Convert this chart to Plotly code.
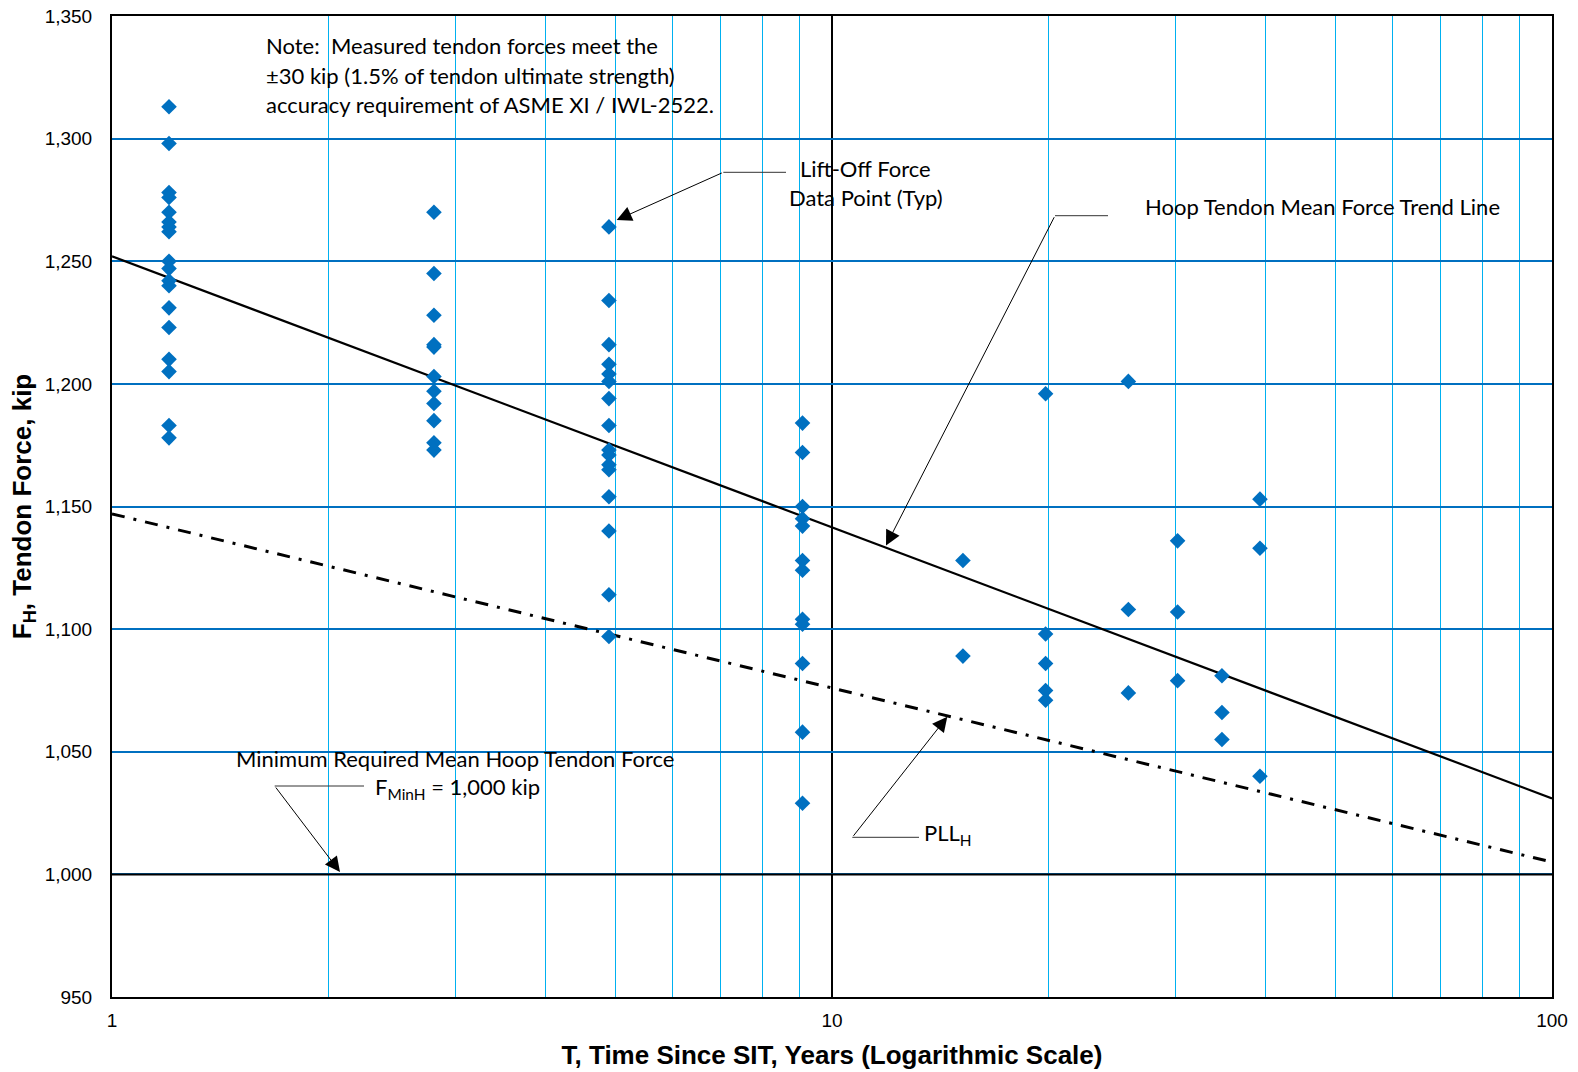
import plotly.graph_objects as go

# ---------------- data ----------------
years = [1.2, 2.8, 4.9, 9.1, 15.2, 19.8, 25.8, 30.2, 34.8, 39.3]
forces_by_year = [
    [1313, 1298, 1278, 1276, 1270, 1266, 1264, 1262, 1250, 1247, 1242, 1240, 1231, 1223, 1210, 1205, 1183, 1178],
    [1270, 1245, 1228, 1216, 1215, 1203, 1197, 1192, 1185, 1176, 1173],
    [1264, 1234, 1216, 1208, 1204, 1201, 1194, 1183, 1173, 1171, 1167, 1165, 1154, 1140, 1114, 1097],
    [1184, 1172, 1150, 1145, 1142, 1128, 1124, 1104, 1102, 1086, 1058, 1029],
    [1128, 1089],
    [1196, 1098, 1086, 1075, 1071],
    [1201, 1108, 1074],
    [1136, 1107, 1079],
    [1081, 1066, 1055],
    [1153, 1133, 1040],
]
trend_T = [1, 100]
trend_F = [1252, 1031]
pll_T = [1, 100]
pll_F = [1147, 1005]
min_T = [1, 100]
min_F = [1000, 1000]

x_tick_vals = [1, 10, 100]
x_minor_vals = [2, 3, 4, 5, 6, 7, 8, 9, 20, 30, 40, 50, 60, 70, 80, 90]
y_tick_vals = [950, 1000, 1050, 1100, 1150, 1200, 1250, 1300, 1350]

pts_T = [t for t, fs in zip(years, forces_by_year) for _ in fs]
pts_F = [f for fs in forces_by_year for f in fs]

# ---------------- figure ----------------
W, H = 1578, 1072
L, R, T, B = 112, 26, 16, 75
PW, PH = W - L - R, H - T - B

def px(x):
    return (x - L) / PW

def py(y):
    return (H - B - y) / PH

fig = go.Figure()
fig.add_trace(go.Scatter(x=min_T, y=min_F, mode="lines",
                         line=dict(color="black", width=2), hoverinfo="skip"))
fig.add_trace(go.Scatter(x=pll_T, y=pll_F, mode="lines",
                         line=dict(color="black", width=3, dash="13px,9px,3px,9px"), hoverinfo="skip"))
fig.add_trace(go.Scatter(x=trend_T, y=trend_F, mode="lines",
                         line=dict(color="black", width=2.2), hoverinfo="skip"))
fig.add_trace(go.Scatter(x=pts_T, y=pts_F, mode="markers",
                         marker=dict(symbol="diamond", size=12, color="#0070C0")))

ann_font = dict(family="Lato, Open Sans, sans-serif", size=22, color="black")

def text(x, y, s, anchor="left"):
    fig.add_annotation(x=px(x), y=py(y), xref="paper", yref="paper", text=s,
                       showarrow=False, xanchor=anchor, yanchor="middle", font=ann_font)

def leader(tip, knee, end):
    fig.add_shape(type="line", xref="paper", yref="paper",
                  x0=px(knee[0]), y0=py(knee[1]), x1=px(end[0]), y1=py(end[1]),
                  line=dict(color="#333333", width=1))
    fig.add_annotation(x=px(tip[0]), y=py(tip[1]), xref="paper", yref="paper",
                       ax=knee[0] - tip[0], ay=knee[1] - tip[1], axref="pixel", ayref="pixel",
                       text="", showarrow=True, arrowhead=2, arrowsize=3,
                       arrowwidth=1, arrowcolor="black")

text(263.5, 45.5, "Note:  Measured tendon forces meet the")
text(263.5, 75, "±30 kip (1.5% of tendon ultimate strength)")
text(263.5, 104.5, "accuracy requirement of ASME XI / IWL-2522.")
text(865.5, 168, "Lift-Off Force", "center")
text(865.5, 197, "Data Point (Typ)", "center")
text(1143, 206.5, "Hoop Tendon Mean Force Trend Line")
text(455, 758, "Minimum Required Mean Hoop Tendon Force", "center")
text(457, 788, "F<sub>MinH</sub> = 1,000 kip", "center")
text(922, 834, "PLL<sub>H</sub>")

leader((616.7, 220), (723.3, 172.3), (786, 172.3))
leader((886, 545.6), (1055, 215.7), (1108, 215.7))
leader((340, 872), (274.7, 786), (364, 786))
leader((947.3, 716.7), (852.3, 837.3), (919, 837.3))

tick_font = dict(family="Liberation Sans, Arial, sans-serif", size=19, color="black")
title_font = dict(family="Liberation Sans, Arial, sans-serif", size=26, color="black")

fig.update_xaxes(type="log", range=[0, 2], tickvals=x_tick_vals, ticktext=[str(v) for v in x_tick_vals],
                 showgrid=True, gridcolor="black", gridwidth=2,
                 minor=dict(tickvals=x_minor_vals, showgrid=True, gridcolor="#00B0F0", gridwidth=1.3, ticks=""),
                 showline=True, linecolor="black", linewidth=2, mirror=True,
                 ticks="", ticklabelstandoff=5, ticklabeloverflow="allow", tickfont=tick_font, zeroline=False,
                 title=dict(text="<b>T, Time Since SIT, Years (Logarithmic Scale)</b>", font=title_font, standoff=16))
fig.update_yaxes(range=[950, 1350], tickvals=y_tick_vals, tickformat=",d",
                 showgrid=True, gridcolor="#0070C0", gridwidth=2,
                 showline=True, linecolor="black", linewidth=2, mirror=True,
                 ticks="", ticklabelstandoff=14, ticklabeloverflow="allow", tickfont=tick_font, zeroline=False,
                 title=dict(text="<b>F<sub>H</sub>, Tendon Force, kip</b>", font=title_font, standoff=6))

fig.update_layout(width=W, height=H, margin=dict(l=L, r=R, t=T, b=B, autoexpand=False),
                  plot_bgcolor="white", paper_bgcolor="white", showlegend=False)

fig.write_html("out.html", config={"displayModeBar": False},
               post_script="document.body.style.margin='0';document.body.style.overflow='hidden';")
